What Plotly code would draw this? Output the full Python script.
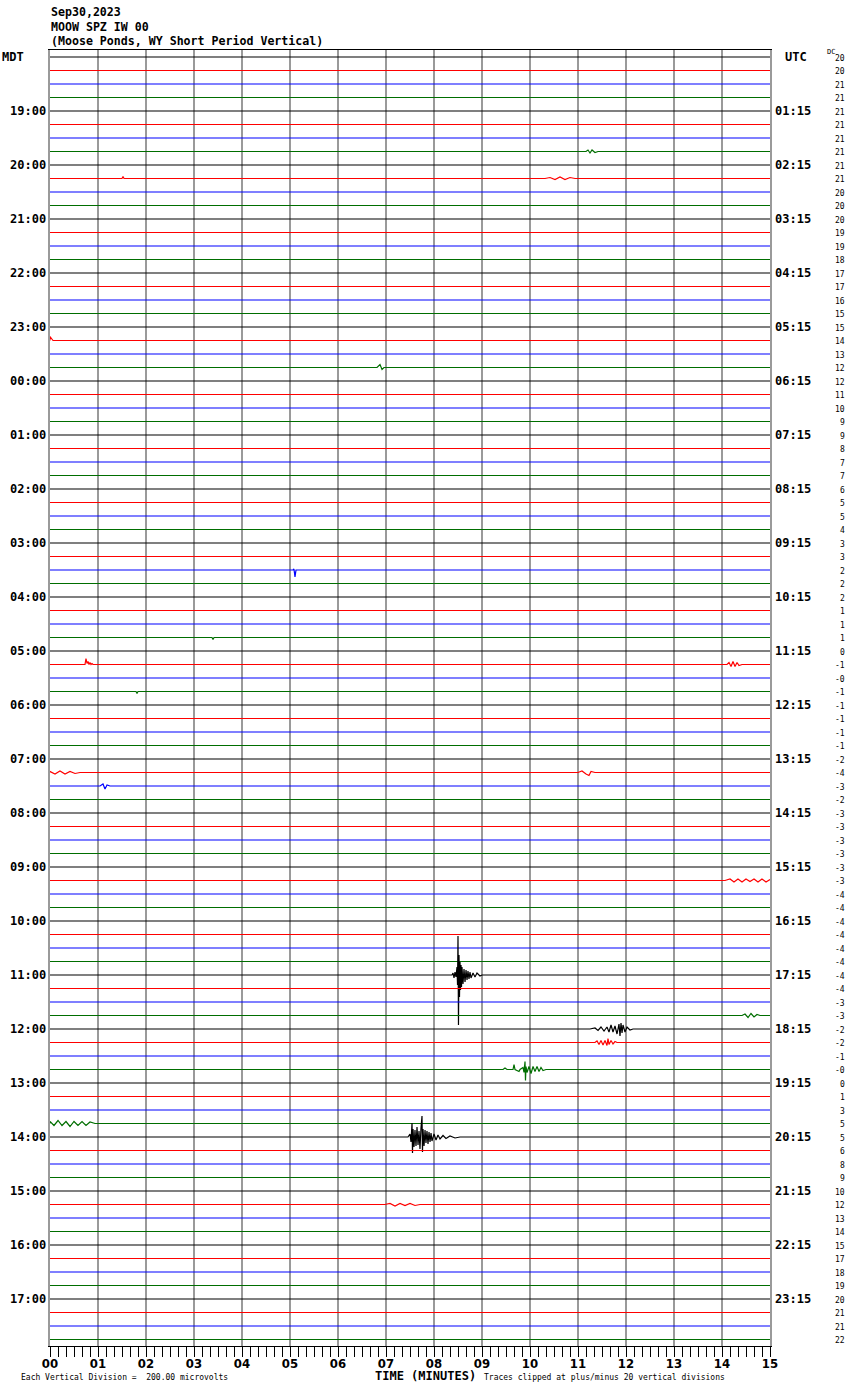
import plotly.graph_objects as go

# ---------------- data ----------------
TITLE_LINES = ["Sep30,2023", "MOOW SPZ IW 00", "(Moose Ponds, WY Short Period Vertical)"]
N_ROWS = 96
TRACE_COLORS = ["#000000", "#ff0000", "#0000ff", "#006e00"]
LEFT_HOURS = ["19:00", "20:00", "21:00", "22:00", "23:00", "00:00", "01:00", "02:00",
              "03:00", "04:00", "05:00", "06:00", "07:00", "08:00", "09:00", "10:00",
              "11:00", "12:00", "13:00", "14:00", "15:00", "16:00", "17:00"]
RIGHT_HOURS = ["01:15", "02:15", "03:15", "04:15", "05:15", "06:15", "07:15", "08:15",
               "09:15", "10:15", "11:15", "12:15", "13:15", "14:15", "15:15", "16:15",
               "17:15", "18:15", "19:15", "20:15", "21:15", "22:15", "23:15"]
DC_VALUES = ["20", "20", "21", "21", "21", "21", "21", "21", "21", "21", "20", "20",
             "20", "19", "19", "18", "17", "17", "16", "15", "15", "14",
             "13", "12", "12", "11", "10", "9", "9", "8", "7", "7", "6", "5", "5", "4",
             "3", "3", "2", "2", "2", "1", "1", "1", "0", "-1", "-0",
             "-1", "-1", "-1", "-1", "-1", "-2", "-4", "-3", "-2", "-3", "-3", "-3", "-3",
             "-3", "-3", "-4", "-4", "-4", "-4", "-4", "-4", "-4", "-4", "-3", "-3", "-2",
             "-2", "-1", "-0", "0", "1", "3", "5", "5", "6", "8", "9", "10", "12", "13",
             "14", "15", "17", "18", "19", "20", "21", "21", "22"]
MINUTE_LABELS = ["00", "01", "02", "03", "04", "05", "06", "07", "08", "09",
                 "10", "11", "12", "13", "14", "15"]

# trace amplitudes are read in reference pixels; one trace spacing = 13.5 px
TRACE_SPACING_PX = 13.5

# Event: 11:00 MDT line (row 68) - large local event
EV68_T = [8.375, 8.396, 8.417, 8.4375, 8.458, 8.479, 8.49, 8.5, 8.51, 8.521, 8.531, 8.542,
          8.552, 8.563, 8.573, 8.583, 8.604, 8.625, 8.646, 8.667, 8.688, 8.708, 8.729,
          8.75, 8.771, 8.813, 8.854, 8.896, 8.958, 9.0]
EV68_A = [0, 2, -3, 3, -2, 8, -10, 39, -50, 20, -22, 13, -15, 10, -12, 8, -9, 6, -7, 5,
          -5, 4, -4, 3, -3, 2, -2, 2, -1, 0]
# Event: 14:00 MDT line (row 80)
EV80_T = [7.458, 7.5, 7.521, 7.542, 7.552, 7.563, 7.583, 7.604, 7.625, 7.646, 7.667, 7.688,
          7.708, 7.729, 7.75, 7.76, 7.771, 7.792, 7.813, 7.833, 7.854, 7.875, 7.896,
          7.917, 7.938, 7.958, 8.0, 8.042, 8.083, 8.125, 8.188, 8.25, 8.333, 8.438, 8.542]
EV80_A = [0, 3, -5, 14, -16, 8, -10, 7, -9, 10, -8, 6, -12, 9, 21, -15, 8, -9, 7, -6, 6,
          -7, 5, -5, 4, -4, 3, -3, 2, -2, 1.5, -1.5, 1, -1, 0]
# Event: 12:00 MDT line (row 72) and following red line (row 73)
EV72_T = [11.25, 11.354, 11.417, 11.479, 11.542, 11.604, 11.646, 11.688, 11.729, 11.771,
          11.813, 11.854, 11.875, 11.896, 11.917, 11.938, 11.979, 12.021, 12.083, 12.146]
EV72_A = [0, 1, -1.5, 2, -2, 2, -3, 4, -3, 3, -5, 5, -7, 6, -4, 4, -3, 2, -1, 0]
EV73_T = [11.354, 11.396, 11.438, 11.479, 11.521, 11.563, 11.604, 11.625, 11.646, 11.688,
          11.729, 11.771, 11.813]
EV73_A = [0, 1.5, -2, 2, -2.5, 2, -3, 4, -2, 2, -1.5, 1, 0]
# Event: green line row 75
EV75_T = [9.438, 9.479, 9.521, 9.646, 9.667, 9.688, 9.771, 9.792, 9.854, 9.875, 9.896,
          9.906, 9.917, 9.938, 9.979, 10.021, 10.063, 10.104, 10.146, 10.188, 10.229,
          10.271, 10.333]
EV75_A = [0, 1.5, 0, 0, 5, 0, -2, 0, 2, -3, 8, -11, 3, -3, 3, -4, 3, -2, 3, -2, 2, -1, 0]
# smaller disturbances
EV45_T = [0.729, 0.75, 0.771, 0.792, 0.813, 0.833, 0.854, 0.875, 0.896,
          14.104, 14.146, 14.188, 14.229, 14.271, 14.313, 14.354, 14.417]
EV45_A = [0, 6, 1, 3, 0, 2, 0, 1, 0, 0, 2, -2, 3, -2, 2, -1, 0]
EV38_T = [5.063, 5.083, 5.104, 5.125]
EV38_A = [0, 1, -7, 0]
EV53_T = [0.0, 0.104, 0.208, 0.313, 0.417, 0.521, 0.625,
          11.0, 11.083, 11.167, 11.229, 11.271, 11.354]
EV53_A = [1, -1.5, 1.5, -1.5, 1, -1, 0, 0, 1.5, -1.5, -3, 1, 0]
EV61_T = [14.063, 14.167, 14.25, 14.333, 14.417, 14.5, 14.583, 14.667, 14.75, 14.833,
          14.917, 15.0]
EV61_A = [0, 1.5, -1.5, 1.5, -1.5, 1.5, -1, 1.5, -1.5, 1.5, -1.5, 1]
EV79_T = [0.0, 0.083, 0.167, 0.25, 0.333, 0.417, 0.5, 0.583, 0.667, 0.75, 0.833, 0.938]
EV79_A = [2, -2, 3, -2, 2, -3, 2, -2, 2, -2, 1.5, 0]
EV54_T = [1.042, 1.104, 1.146, 1.188, 1.25]
EV54_A = [0, 2, -3, 1, 0]
EV23_T = [6.813, 6.875, 6.917, 6.958]
EV23_A = [0, 3, -2, 0]
EV71_T = [14.417, 14.479, 14.542, 14.604, 14.667, 14.729, 14.792]
EV71_A = [0, 1.5, -2, 2, -1.5, 1, 0]
EV85_T = [6.979, 7.083, 7.188, 7.292, 7.396, 7.5, 7.604, 7.708]
EV85_A = [0, 1, -1.5, 1, -1, 1, -1, 0]
EV9_T = [1.5, 1.521, 1.542, 10.313, 10.417, 10.521, 10.625, 10.729, 10.833, 10.938]
EV9_A = [0, 2, 0, 0, 1, -1, 1.5, -1, 1, 0]
EV21_T = [0.0, 0.063]
EV21_A = [4, 0]
EV7_T = [11.167, 11.208, 11.25, 11.292, 11.354, 11.417]
EV7_A = [0, 1.5, -1.5, 1.5, -1, 0]
EV47_T = [1.792, 1.813, 1.833]
EV47_A = [0, -2, 0]
EV43_T = [3.375, 3.396, 3.417]
EV43_A = [0, -2, 0]

EVENTS = {
    68: (EV68_T, EV68_A), 80: (EV80_T, EV80_A), 72: (EV72_T, EV72_A),
    73: (EV73_T, EV73_A), 75: (EV75_T, EV75_A), 45: (EV45_T, EV45_A),
    38: (EV38_T, EV38_A), 53: (EV53_T, EV53_A), 61: (EV61_T, EV61_A),
    79: (EV79_T, EV79_A), 54: (EV54_T, EV54_A), 23: (EV23_T, EV23_A),
    71: (EV71_T, EV71_A), 85: (EV85_T, EV85_A), 9: (EV9_T, EV9_A),
    21: (EV21_T, EV21_A), 7: (EV7_T, EV7_A), 47: (EV47_T, EV47_A),
    43: (EV43_T, EV43_A),
}

# ---------------- figure ----------------
W, H = 850, 1390


def px(x):
    return x / W


def py(y):
    return 1 - y / H


fig = go.Figure()
for i in range(N_ROWS):
    xs = [0.0]
    amps = [0.0]
    if i in EVENTS:
        t, a = EVENTS[i]
        xs += list(t)
        amps += list(a)
    if xs[-1] < 15:
        xs.append(15.0)
        amps.append(0.0)
    ys = [-i + v / TRACE_SPACING_PX for v in amps]
    fig.add_trace(go.Scatter(x=xs, y=ys, mode="lines",
                             line=dict(color=TRACE_COLORS[i % 4], width=1.2),
                             hoverinfo="skip", showlegend=False))

mono_b = dict(family="DejaVu Sans Mono", size=12, color="black", weight="bold")
ann = []
for k, line in enumerate(TITLE_LINES):
    ann.append(dict(x=px(49), y=py(12 + 14.5 * k), xref="paper", yref="paper",
                    text=line, showarrow=False, xanchor="left", yanchor="middle",
                    font=dict(family="DejaVu Sans Mono", size=11.6, color="black",
                              weight="bold")))
ann.append(dict(x=0, y=0, xref="paper", yref="y", text="MDT", showarrow=False,
                xanchor="left", yanchor="middle", font=mono_b))
ann.append(dict(x=px(783), y=0, xref="paper", yref="y", text="UTC", showarrow=False,
                xanchor="left", yanchor="middle", font=mono_b))
for k, (lh, rh) in enumerate(zip(LEFT_HOURS, RIGHT_HOURS)):
    row = 4 * (k + 1)
    ann.append(dict(x=px(48), y=-row, xref="paper", yref="y", text=lh,
                    showarrow=False, xanchor="right", yanchor="middle", font=mono_b))
    ann.append(dict(x=px(773), y=-row, xref="paper", yref="y", text=rh,
                    showarrow=False, xanchor="left", yanchor="middle", font=mono_b))
small = dict(family="DejaVu Sans Mono", size=8, color="black")
for i, dc in enumerate(DC_VALUES):
    ann.append(dict(x=px(847), y=-i - 0.1, xref="paper", yref="y", text=dc,
                    showarrow=False, xanchor="right", yanchor="middle", font=small))
ann.append(dict(x=px(825), y=py(52), xref="paper", yref="paper", text="DC",
                showarrow=False, xanchor="left", yanchor="middle",
                font=dict(family="DejaVu Sans Mono", size=7, color="black")))
ann.append(dict(x=px(19), y=py(1377), xref="paper", yref="paper",
                text="Each Vertical Division =  200.00 microvolts", showarrow=False,
                xanchor="left", yanchor="middle", font=small))
ann.append(dict(x=px(373), y=py(1376), xref="paper", yref="paper",
                text="TIME (MINUTES)", showarrow=False, xanchor="left",
                yanchor="middle",
                font=dict(family="DejaVu Sans Mono", size=12, color="black",
                          weight="bold")))
ann.append(dict(x=px(482), y=py(1377), xref="paper", yref="paper",
                text="Traces clipped at plus/minus 20 vertical divisions",
                showarrow=False, xanchor="left", yanchor="middle", font=small))

fig.update_layout(
    width=W, height=H, margin=dict(l=0, r=0, t=0, b=0, autoexpand=False),
    paper_bgcolor="white", plot_bgcolor="white", showlegend=False,
    annotations=ann,
    xaxis=dict(domain=[px(50), px(770)], range=[0, 15], automargin=False,
               tickmode="array", tickvals=list(range(16)), ticktext=MINUTE_LABELS,
               ticks="outside", ticklen=10, tickwidth=1, tickcolor="black",
               ticklabelstandoff=-5,
               minor=dict(tickmode="array", tickvals=[k / 6 for k in range(91)],
                          ticks="outside", ticklen=10, tickwidth=1, tickcolor="black",
                          showgrid=False),
               showgrid=True, gridcolor="#9a9a9a", gridwidth=2,
               showline=True, linecolor="black", linewidth=1, mirror=True,
               zeroline=False,
               tickfont=dict(family="DejaVu Sans Condensed, DejaVu Sans", size=13,
                             color="black", weight="bold")),
    yaxis=dict(domain=[py(1346.25), py(50.25)], range=[-95.5, 0.5], automargin=False,
               showticklabels=False, showgrid=False, zeroline=False, ticks="",
               showline=True, linecolor="#9a9a9a", linewidth=2, mirror=True),
)

fig.write_html("out.html", config={"displayModeBar": False},
               post_script="document.body.style.margin='0';"
                           "document.body.style.overflow='hidden';")
